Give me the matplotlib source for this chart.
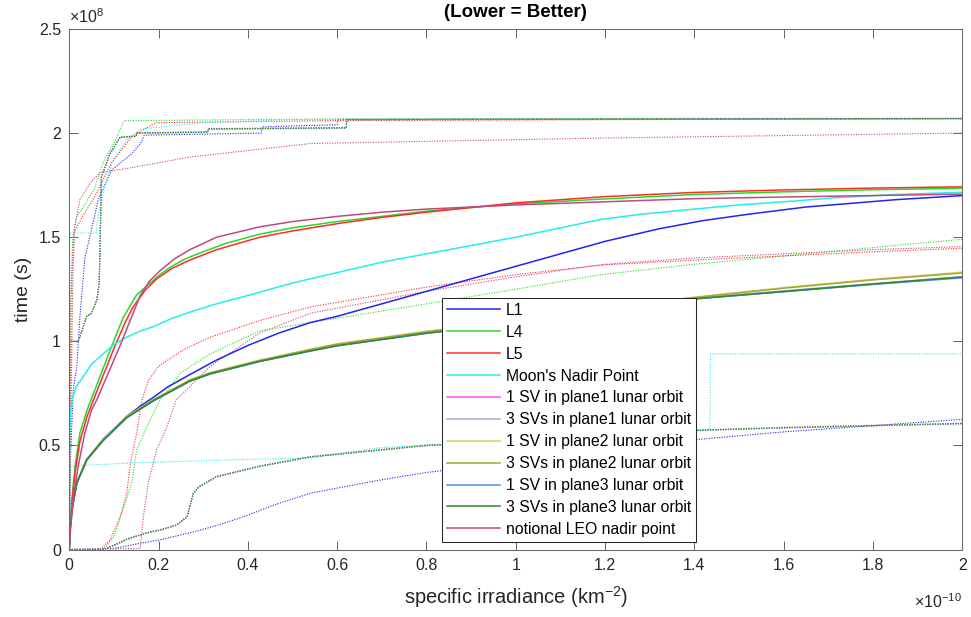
import numpy as np
import matplotlib
matplotlib.use("Agg")
import matplotlib.pyplot as plt

plt.rcParams["font.family"] = ["Liberation Sans", "DejaVu Sans"]
plt.rcParams["mathtext.default"] = "regular"

# Irradiance in units of 1e-10 km^-2, time in units of 1e8 s.
# Each site has a median curve (solid) and lower / upper bound curves (dotted).

# ---- L1 ----
l1_x = [0, 0.002, 0.006, 0.017, 0.039, 0.076, 0.129, 0.16, 0.188, 0.22, 0.27, 0.33, 0.4, 0.47, 0.54, 0.6, 0.7, 0.8, 0.9, 1.0, 1.1, 1.2, 1.32, 1.42, 1.52, 1.65, 1.85, 2.0]
l1_y = [0, 0.10, 0.19, 0.32, 0.43, 0.53, 0.64, 0.69, 0.73, 0.78, 0.84, 0.91, 0.98, 1.04, 1.09, 1.12, 1.18, 1.24, 1.30, 1.36, 1.42, 1.48, 1.54, 1.58, 1.61, 1.645, 1.68, 1.70]
l1_lo_x = [0, 0.10, 0.159, 0.204, 0.27, 0.33, 0.39, 0.46, 0.54, 0.6, 0.7, 0.8, 1.0, 1.2, 1.415, 1.6, 1.8, 2.0]
l1_lo_y = [0, 0.005, 0.03, 0.047, 0.08, 0.115, 0.157, 0.215, 0.27, 0.295, 0.335, 0.37, 0.42, 0.48, 0.53, 0.565, 0.595, 0.625]
l1_hi_x = [0, 0.003, 0.009, 0.017, 0.024, 0.035, 0.049, 0.065, 0.094, 0.139, 0.16, 0.168, 0.43, 0.432, 0.60, 0.602, 2.0]
l1_hi_y = [0, 0.45, 0.77, 0.88, 1.12, 1.40, 1.53, 1.68, 1.82, 1.90, 1.95, 1.99, 2.0, 2.03, 2.04, 2.066, 2.07]

# ---- L4 ----
l4_x = [0, 0.002, 0.006, 0.013, 0.024, 0.04, 0.06, 0.092, 0.12, 0.15, 0.165, 0.181, 0.2, 0.226, 0.25, 0.27, 0.3, 0.35, 0.427, 0.5, 0.6, 0.7, 0.8, 1.0, 1.2, 1.4, 1.6, 1.8, 2.0]
l4_y = [0, 0.12, 0.24, 0.40, 0.56, 0.67, 0.78, 0.96, 1.11, 1.22, 1.25, 1.28, 1.315, 1.355, 1.385, 1.405, 1.43, 1.47, 1.515, 1.545, 1.575, 1.60, 1.625, 1.66, 1.684, 1.705, 1.718, 1.728, 1.735]
l4_lo_x = [0, 0.076, 0.1, 0.12, 0.14, 0.151, 0.174, 0.204, 0.25, 0.316, 0.427, 0.54, 0.8, 1.0, 1.19, 1.4, 1.6, 1.8, 2.0]
l4_lo_y = [0, 0, 0.06, 0.19, 0.32, 0.48, 0.59, 0.72, 0.85, 0.94, 1.05, 1.09, 1.18, 1.25, 1.32, 1.37, 1.41, 1.45, 1.49]
l4_hi_x = [0, 0.003, 0.008, 0.017, 0.027, 0.056, 0.078, 0.1, 0.123, 0.3, 0.6, 1.0, 2.0]
l4_hi_y = [0, 1.2, 1.50, 1.60, 1.63, 1.73, 1.87, 1.95, 2.06, 2.063, 2.068, 2.07, 2.072]

# ---- L5 ----
l5_x = [0, 0.002, 0.006, 0.013, 0.024, 0.04, 0.06, 0.099, 0.125, 0.143, 0.17, 0.196, 0.23, 0.27, 0.33, 0.427, 0.5, 0.6, 0.7, 0.8, 1.0, 1.2, 1.4, 1.6, 1.8, 2.0]
l5_y = [0, 0.11, 0.22, 0.37, 0.52, 0.64, 0.75, 0.96, 1.09, 1.165, 1.245, 1.30, 1.35, 1.39, 1.44, 1.50, 1.53, 1.565, 1.595, 1.62, 1.665, 1.695, 1.715, 1.727, 1.736, 1.742]
l5_lo_x = [0, 0.07, 0.092, 0.114, 0.129, 0.136, 0.151, 0.163, 0.177, 0.2, 0.256, 0.316, 0.427, 0.54, 0.8, 1.0, 1.19, 1.4, 1.6, 1.8, 2.0]
l5_lo_y = [0, 0, 0.047, 0.157, 0.27, 0.40, 0.56, 0.72, 0.81, 0.88, 0.96, 1.02, 1.10, 1.165, 1.26, 1.32, 1.366, 1.39, 1.41, 1.43, 1.447]
l5_hi_x = [0, 0.002, 0.004, 0.01, 0.03, 0.056, 0.094, 0.139, 0.16, 0.195, 0.6, 2.0]
l5_hi_y = [0, 0.5, 1.2, 1.52, 1.60, 1.69, 1.855, 1.98, 2.01, 2.05, 2.06, 2.07]

# ---- Moon's nadir point ----
moon_x = [0, 0.0005, 0.001, 0.003, 0.006, 0.015, 0.031, 0.05, 0.076, 0.1, 0.129, 0.16, 0.188, 0.23, 0.27, 0.33, 0.4, 0.5, 0.6, 0.7, 0.8, 0.9, 1.0, 1.1, 1.19, 1.28, 1.4, 1.5, 1.6, 1.72, 1.85, 2.0]
moon_y = [0, 0.45, 0.58, 0.66, 0.72, 0.78, 0.83, 0.89, 0.94, 0.985, 1.02, 1.05, 1.07, 1.11, 1.14, 1.18, 1.22, 1.28, 1.33, 1.38, 1.42, 1.46, 1.50, 1.545, 1.585, 1.61, 1.635, 1.655, 1.67, 1.69, 1.705, 1.716]
moon_lo_x = [0, 0.001, 0.13, 0.353, 0.54, 0.7, 0.8, 1.0, 1.2, 1.435, 1.436, 2.0]
moon_lo_y = [0, 0.40, 0.415, 0.43, 0.44, 0.49, 0.50, 0.52, 0.55, 0.575, 0.94, 0.94]
moon_hi_x = [0, 0.001, 0.06, 0.065, 0.08, 0.1, 0.13, 0.16, 0.21, 0.3, 0.5, 2.0]
moon_hi_y = [0, 1.52, 1.52, 1.6, 1.75, 1.88, 1.97, 2.02, 2.03, 2.05, 2.065, 2.07]

# ---- lunar orbit constellations (shared irradiance samples) ----
lun_x = [0, 0.002, 0.006, 0.017, 0.039, 0.076, 0.129, 0.188, 0.27, 0.316, 0.427, 0.54, 0.6, 0.8, 1.0, 1.2, 1.4, 1.6, 1.8, 2.0]
p1_1sv_y = [0, 0.10, 0.19, 0.32, 0.43, 0.525, 0.635, 0.715, 0.81, 0.845, 0.905, 0.955, 0.98, 1.04, 1.09, 1.15, 1.205, 1.24, 1.275, 1.308]
p1_3sv_y = [0, 0.10, 0.19, 0.32, 0.432, 0.527, 0.637, 0.717, 0.812, 0.847, 0.907, 0.957, 0.982, 1.042, 1.092, 1.152, 1.207, 1.242, 1.277, 1.31]
p2_1sv_y = [0, 0.10, 0.19, 0.322, 0.434, 0.53, 0.64, 0.72, 0.815, 0.85, 0.91, 0.962, 0.988, 1.048, 1.10, 1.158, 1.212, 1.258, 1.298, 1.332]
p2_3sv_y = [0, 0.10, 0.19, 0.321, 0.433, 0.528, 0.638, 0.718, 0.813, 0.848, 0.908, 0.96, 0.986, 1.046, 1.097, 1.156, 1.21, 1.255, 1.295, 1.328]
p3_1sv_y = [0, 0.10, 0.19, 0.319, 0.429, 0.523, 0.633, 0.713, 0.808, 0.843, 0.903, 0.953, 0.978, 1.038, 1.088, 1.148, 1.203, 1.238, 1.273, 1.305]
p3_3sv_y = [0, 0.10, 0.19, 0.32, 0.43, 0.524, 0.634, 0.714, 0.809, 0.844, 0.904, 0.954, 0.979, 1.039, 1.089, 1.149, 1.204, 1.239, 1.275, 1.309]

lun_lo_x = [0, 0.076, 0.1, 0.13, 0.174, 0.204, 0.24, 0.264, 0.278, 0.29, 0.33, 0.427, 0.54, 0.8, 1.0, 1.2, 1.4, 1.6, 1.8, 2.0]
p1_1sv_lo = [0, 0, 0.02, 0.05, 0.08, 0.094, 0.117, 0.157, 0.27, 0.30, 0.35, 0.40, 0.445, 0.50, 0.52, 0.55, 0.572, 0.585, 0.595, 0.605]
p1_3sv_lo = [0, 0, 0.022, 0.052, 0.082, 0.096, 0.119, 0.16, 0.272, 0.302, 0.352, 0.402, 0.447, 0.502, 0.522, 0.552, 0.574, 0.587, 0.597, 0.607]
p2_1sv_lo = [0, 0, 0.018, 0.048, 0.078, 0.092, 0.115, 0.155, 0.268, 0.298, 0.348, 0.398, 0.443, 0.498, 0.518, 0.548, 0.57, 0.583, 0.593, 0.603]
p2_3sv_lo = [0, 0, 0.021, 0.051, 0.081, 0.095, 0.118, 0.158, 0.271, 0.301, 0.351, 0.401, 0.446, 0.501, 0.521, 0.551, 0.573, 0.586, 0.596, 0.606]
p3_1sv_lo = [0, 0, 0.019, 0.049, 0.079, 0.093, 0.116, 0.156, 0.269, 0.299, 0.349, 0.399, 0.444, 0.499, 0.519, 0.549, 0.571, 0.584, 0.594, 0.604]
p3_3sv_lo = [0, 0, 0.02, 0.05, 0.08, 0.094, 0.117, 0.157, 0.27, 0.30, 0.35, 0.40, 0.445, 0.50, 0.52, 0.55, 0.572, 0.585, 0.595, 0.605]

lun_hi_x = [0, 0.0005, 0.02, 0.024, 0.039, 0.05, 0.062, 0.067, 0.069, 0.072, 0.091, 0.114, 0.15, 0.152, 0.31, 0.312, 0.62, 0.622, 2.0]
p1_1sv_hi = [0, 1.0, 1.0, 1.02, 1.12, 1.135, 1.2, 1.28, 1.44, 1.79, 1.90, 1.98, 1.985, 2.0, 2.005, 2.02, 2.025, 2.065, 2.07]
p1_3sv_hi = [0, 1.0, 1.0, 1.02, 1.122, 1.137, 1.202, 1.282, 1.442, 1.792, 1.902, 1.982, 1.987, 2.002, 2.007, 2.022, 2.027, 2.066, 2.07]
p2_1sv_hi = [0, 1.0, 1.0, 1.02, 1.118, 1.133, 1.198, 1.278, 1.438, 1.788, 1.898, 1.978, 1.983, 1.998, 2.003, 2.018, 2.023, 2.064, 2.069]
p2_3sv_hi = [0, 1.0, 1.0, 1.02, 1.121, 1.136, 1.201, 1.281, 1.441, 1.791, 1.901, 1.981, 1.986, 2.001, 2.006, 2.021, 2.026, 2.065, 2.07]
p3_1sv_hi = [0, 1.0, 1.0, 1.02, 1.119, 1.134, 1.199, 1.279, 1.439, 1.789, 1.899, 1.979, 1.984, 1.999, 2.004, 2.019, 2.024, 2.064, 2.069]
p3_3sv_hi = [0, 1.0, 1.0, 1.02, 1.12, 1.135, 1.2, 1.28, 1.44, 1.79, 1.90, 1.98, 1.985, 2.0, 2.005, 2.02, 2.025, 2.065, 2.07]

# ---- notional LEO nadir point ----
leo_x = [0, 0.003, 0.01, 0.02, 0.035, 0.05, 0.062, 0.114, 0.159, 0.18, 0.204, 0.235, 0.27, 0.33, 0.427, 0.5, 0.6, 0.7, 0.8, 1.0, 1.2, 1.4, 1.6, 1.8, 2.0]
leo_y = [0, 0.10, 0.26, 0.40, 0.56, 0.67, 0.72, 0.98, 1.22, 1.29, 1.34, 1.395, 1.44, 1.50, 1.55, 1.575, 1.60, 1.62, 1.635, 1.655, 1.67, 1.685, 1.693, 1.70, 1.707]
leo_lo_x = [0, 0.159, 0.166, 0.177, 0.196, 0.219, 0.24, 0.316, 0.427, 0.54, 0.8, 1.0, 1.2, 1.4, 1.6, 1.8, 2.0]
leo_lo_y = [0, 0.005, 0.157, 0.32, 0.48, 0.59, 0.72, 0.88, 1.04, 1.135, 1.24, 1.31, 1.37, 1.40, 1.42, 1.44, 1.455]
leo_hi_x = [0, 0.004, 0.008, 0.012, 0.024, 0.047, 0.069, 0.129, 0.27, 0.54, 1.19, 2.0]
leo_hi_y = [0, 0.7, 1.3, 1.55, 1.68, 1.76, 1.81, 1.83, 1.885, 1.95, 1.976, 2.0]

labels = ["L1", "L4", "L5", "Moon's Nadir Point",
          "1 SV in plane1 lunar orbit", "3 SVs in plane1 lunar orbit",
          "1 SV in plane2 lunar orbit", "3 SVs in plane2 lunar orbit",
          "1 SV in plane3 lunar orbit", "3 SVs in plane3 lunar orbit",
          "notional LEO nadir point"]
colors = ["#2323f2", "#25dc25", "#ff2b2b", "#27eded", "#ff4cff", "#a9a9c9",
          "#d2d264", "#a6a637", "#4f8ff3", "#2f8a2f", "#c04a80"]

series = [
    (l1_x, l1_y, l1_lo_x, l1_lo_y, l1_hi_x, l1_hi_y),
    (l4_x, l4_y, l4_lo_x, l4_lo_y, l4_hi_x, l4_hi_y),
    (l5_x, l5_y, l5_lo_x, l5_lo_y, l5_hi_x, l5_hi_y),
    (moon_x, moon_y, moon_lo_x, moon_lo_y, moon_hi_x, moon_hi_y),
    (lun_x, p1_1sv_y, lun_lo_x, p1_1sv_lo, lun_hi_x, p1_1sv_hi),
    (lun_x, p1_3sv_y, lun_lo_x, p1_3sv_lo, lun_hi_x, p1_3sv_hi),
    (lun_x, p2_1sv_y, lun_lo_x, p2_1sv_lo, lun_hi_x, p2_1sv_hi),
    (lun_x, p2_3sv_y, lun_lo_x, p2_3sv_lo, lun_hi_x, p2_3sv_hi),
    (lun_x, p3_1sv_y, lun_lo_x, p3_1sv_lo, lun_hi_x, p3_1sv_hi),
    (lun_x, p3_3sv_y, lun_lo_x, p3_3sv_lo, lun_hi_x, p3_3sv_hi),
    (leo_x, leo_y, leo_lo_x, leo_lo_y, leo_hi_x, leo_hi_y),
]

fig = plt.figure(figsize=(9.71, 6.17), dpi=100)
ax = fig.add_axes([0.0713, 0.1094, 0.9197, 0.8436])

dotted = (0, (1, 1.3))
for (mx, my, lx, ly, hx, hy), c in zip(series, colors):
    ax.plot(lx, ly, color=c, lw=0.8, ls=dotted)
    ax.plot(hx, hy, color=c, lw=0.8, ls=dotted)

handles = []
for (mx, my, lx, ly, hx, hy), c, lab in zip(series, colors, labels):
    h, = ax.plot(mx, my, color=c, lw=1.1, label=lab)
    handles.append(h)

ax.set_xlim(0, 2)
ax.set_ylim(0, 2.5)
xt = np.round(np.arange(0, 2.01, 0.2), 1)
yt = np.arange(0, 2.51, 0.5)
ax.set_xticks(xt)
ax.set_yticks(yt)
ax.set_xticklabels(["%g" % v for v in xt])
ax.set_yticklabels(["%g" % v for v in yt])
ax.tick_params(direction="in", length=6.5, width=0.6, top=True, right=True,
               color="#4a4a4a", labelcolor="#262626", labelsize=11.5, pad=6)
for s in ax.spines.values():
    s.set_color("#6a6a6a")
    s.set_linewidth(0.75)

ax.set_xlabel("specific irradiance (km$^{-2}$)", fontsize=14.5, color="#262626", labelpad=8)
ax.set_ylabel("time (s)", fontsize=14, color="#262626", labelpad=5)
ax.text(0.0, 1.006, r"$\times10^{8}$", transform=ax.transAxes, ha="left", va="bottom",
        fontsize=11.5, color="#262626")
ax.text(1.0, -0.083, r"$\times10^{-10}$", transform=ax.transAxes, ha="right", va="top",
        fontsize=11.5, color="#262626")
fig.text(0.531, 1 - 12.5 / 617, "(Lower = Better)", ha="center", va="center",
         fontsize=13.5, fontweight="bold", color="#000000")

leg = ax.legend(handles=handles, loc="upper left", bbox_to_anchor=(0.4175, 0.483),
                fontsize=11.3, frameon=True, fancybox=False, edgecolor="#262626",
                framealpha=1, borderpad=0.3, labelspacing=0.44, handlelength=3.4,
                handletextpad=0.35, borderaxespad=0)
leg.get_frame().set_linewidth(0.75)

fig.savefig("out.png", dpi=100)
